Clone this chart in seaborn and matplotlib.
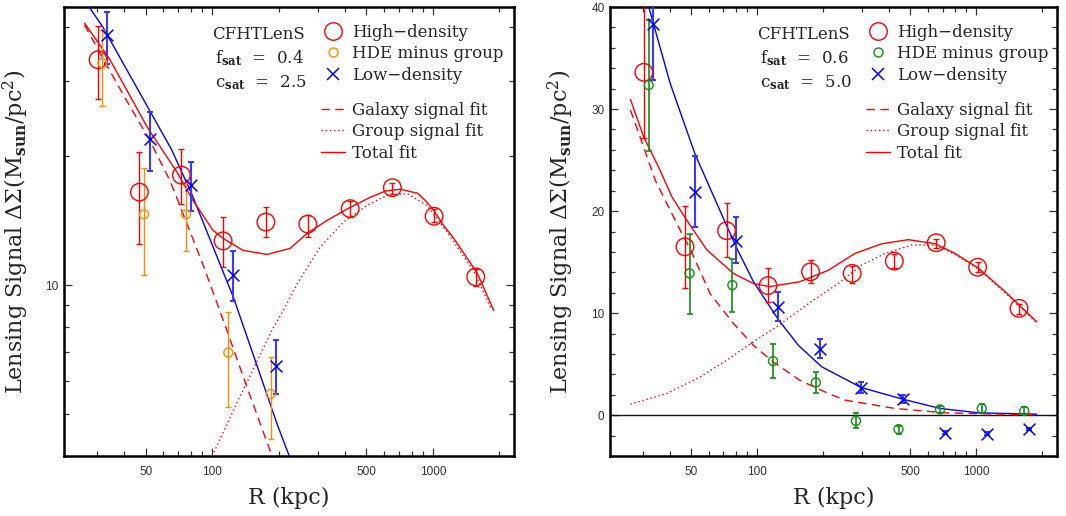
import numpy as np
import matplotlib
matplotlib.use("Agg")
import matplotlib.pyplot as plt
import seaborn as sns
from matplotlib.lines import Line2D
from matplotlib.ticker import FixedLocator, FixedFormatter, NullFormatter

# ---------------- data ----------------
# high-density sample (same in both panels)
R_high = [30.4, 46.8, 72.5, 112, 175, 271, 422, 655, 1012, 1563]
high_y = [33.6, 16.5, 18.08, 12.7, 14.05, 13.9, 15.1, 16.9, 14.5, 10.47]
high_lo = [27.2, 12.5, 15.46, 11.05, 12.95, 13.0, 14.4, 16.35, 14.05, 9.95]
high_hi = [40.3, 20.52, 20.75, 14.45, 15.2, 14.6, 15.75, 17.3, 15.05, 10.93]

# low-density sample (same in both panels)
R_low = [33.5, 52.0, 80.3, 124.5, 194, 297, 461, 719, 1114, 1740]
low_y = [38.3, 21.9, 17.1, 10.58, 6.49, 2.71, 1.57, -1.70, -1.80, -1.37]
low_lo = [32.8, 18.45, 14.9, 9.2, 5.58, 2.13, 1.15, -1.82, -1.92, -1.49]
low_hi = [43.4, 25.4, 19.4, 12.03, 7.46, 3.27, 1.96, -1.58, -1.68, -1.25]

# HDE minus group, left panel (f_sat=0.4)
R_hde1 = [31.8, 49.1, 76.0, 118.3, 184]
hde1_y = [33.0, 14.65, 14.65, 6.97, 5.58]
hde1_lo = [26.2, 10.6, 12.0, 5.21, 4.39]
hde1_hi = [39.5, 18.77, 17.3, 8.69, 6.79]

# HDE minus group, right panel (f_sat=0.6)
R_hde2 = [32.0, 49.1, 77.0, 118, 185, 282, 441, 682, 1057, 1652]
hde2_y = [32.35, 13.9, 12.75, 5.3, 3.2, -0.56, -1.37, 0.56, 0.66, 0.42]
hde2_lo = [25.9, 9.87, 10.1, 3.6, 2.13, -1.3, -1.8, 0.17, 0.26, 0.07]
hde2_hi = [38.7, 17.8, 15.3, 6.96, 4.25, 0.17, -1.05, 0.88, 1.05, 0.81]

# low-density fit (both panels)
lowfit_R = [27.7, 32.0, 40.1, 52.0, 65.4, 80.5, 96.0, 125, 154, 197, 298, 461, 683, 1021, 1885]
lowfit_y = [44.6, 40.0, 32.5, 25.6, 20.75, 16.4, 13.1, 9.35, 6.85, 4.74, 2.71, 1.57, 0.66, 0.23, 0.10]

# left panel fits
tot1_R = [26.4, 34.3, 51.0, 69.1, 81.7, 100.7, 111.8, 137.9, 177, 225.5, 269.4, 332.3, 414,
          520, 609, 713, 852, 927, 1008, 1118, 1242, 1590, 1886]
tot1_y = [40.9, 33.7, 23.3, 18.4, 15.8, 13.45, 12.88, 12.07, 11.81, 12.2, 13.23, 14.19, 15.13,
          16.05, 16.6, 16.76, 16.4, 15.75, 14.97, 13.8, 12.88, 10.67, 8.74]
gal1_R = [26.4, 31.9, 40.9, 52.1, 64.2, 69.8, 90.7, 116.6, 143.8, 186.6]
gal1_y = [40.5, 33.9, 27.0, 21.8, 17.6, 15.8, 11.2, 7.85, 5.78, 4.0]
grp1_R = [100, 130, 145, 185, 210, 233, 250, 309, 394, 503, 620, 765, 942, 1163, 1538, 1832]
grp1_y = [4.0, 5.35, 6.0, 7.8, 8.75, 9.7, 10.35, 12.3, 14.06, 15.37, 16.23, 16.37, 15.35, 13.3, 10.75, 8.85]

# right panel fits
tot2_R = [26.4, 30.3, 35.5, 40.8, 47.7, 58.9, 77.8, 95.9, 114, 156, 211, 279, 370, 489, 648, 799, 1021, 1352, 1885]
tot2_y = [30.95, 27.3, 24.3, 21.4, 19.1, 16.2, 13.9, 12.9, 12.6, 13.07, 14.2, 15.85, 16.8, 17.2, 16.8, 15.85, 14.4, 12.1, 9.15]
gal2_R = [26.4, 30.3, 34.3, 38.7, 45.3, 49.4, 61, 77.8, 95.9, 118.2, 156, 211, 252, 425, 719, 1445, 1885]
gal2_y = [29.9, 26.3, 23.0, 20.75, 17.8, 16.3, 11.9, 9.0, 6.86, 5.23, 3.43, 2.13, 1.47, 0.66, 0.23, 0.08, 0.05]
grp2_R = [26.4, 38.7, 54.9, 72.6, 95.9, 122.5, 156, 177, 234, 299, 383, 506, 648, 799, 1021, 1352, 1885]
grp2_y = [1.08, 2.13, 3.75, 5.39, 7.19, 8.66, 10.3, 11.15, 12.9, 14.7, 15.85, 16.67, 16.67, 15.75, 14.3, 12.0, 9.05]

# texts and ticks
panel_fsat = ["0.4", "0.6"]
panel_csat = ["2.5", "5.0"]
legend_pts = ["High\u2212density", "HDE minus group", "Low\u2212density"]
legend_lines = ["Galaxy signal fit", "Group signal fit", "Total fit"]
x_major = [50, 100, 500, 1000]
x_major_labels = ["50", "100", "500", "1000"]
x_minor = [30, 40, 60, 70, 80, 90, 200, 300, 400, 600, 700, 800, 900, 2000]
yl_major = [10]
yl_major_labels = ["10"]
yl_minor = [4, 5, 6, 7, 8, 9, 20, 30, 40]
yr_major = [0, 10, 20, 30, 40]
yr_minor = list(range(-4, 41, 2))

# ---------------- style ----------------
sns.set_theme(style="ticks")
plt.rcParams["font.family"] = ["DejaVu Serif"]
plt.rcParams["mathtext.fontset"] = "dejavuserif"

RED = "#ff0000"
ORANGE = "#ff8c00"
GREEN = "#138f13"
BLUE = "#0000ff"
FS_LEG = 12

W, H = 1066, 516
fig = plt.figure(figsize=(W / 100, H / 100), dpi=100)
ax1 = fig.add_axes([64 / W, 1 - 456 / H, 450 / W, 449 / H])
ax2 = fig.add_axes([610 / W, 1 - 456 / H, 447 / W, 449 / H])


def ebar(ax, x, y, lo, hi, color, lw, cap, mask_pos=False):
    x = np.asarray(x, float); y = np.asarray(y, float)
    lo = np.asarray(lo, float); hi = np.asarray(hi, float)
    if mask_pos:
        m = y > 0
        x, y, lo, hi = x[m], y[m], lo[m], hi[m]
    ax.errorbar(x, y, yerr=[y - lo, hi - y], fmt="none", ecolor=color,
                elinewidth=lw, capsize=cap, capthick=lw, zorder=4)


def pts(ax, x, y, marker, size, color, lw, mask_pos=False):
    x = np.asarray(x, float); y = np.asarray(y, float)
    if mask_pos:
        m = y > 0
        x, y = x[m], y[m]
    if marker == "x":
        sns.scatterplot(x=x, y=y, ax=ax, marker="x", s=size, color=color,
                        linewidth=lw, zorder=6)
    else:
        sns.scatterplot(x=x, y=y, ax=ax, marker="o", s=size, facecolors="none",
                        edgecolor=color, linewidth=lw, zorder=6)


def line(ax, x, y, color, ls, lw):
    sns.lineplot(x=x, y=y, ax=ax, color=color, ls=ls, lw=lw, sort=False,
                 estimator=None, zorder=3)


def style_axes(ax):
    for s in ax.spines.values():
        s.set_linewidth(1.8)
        s.set_color("black")
    ax.tick_params(which="both", direction="in", top=True, right=True,
                   color="#333333", width=0.9)
    ax.tick_params(which="major", length=6)
    ax.tick_params(which="minor", length=3.5)
    ax.tick_params(axis="x", which="major", pad=7, labelsize=8.5,
                   labelcolor="#333333", labelfontfamily="Liberation Sans")
    ax.tick_params(axis="y", which="major", pad=4, labelsize=8.5,
                   labelcolor="#333333", labelfontfamily="Liberation Sans")
    ax.set_xscale("log")
    ax.set_xlim(21.3, 2330)
    ax.xaxis.set_major_locator(FixedLocator(x_major))
    ax.xaxis.set_major_formatter(FixedFormatter(x_major_labels))
    ax.xaxis.set_minor_locator(FixedLocator(x_minor))
    ax.xaxis.set_minor_formatter(NullFormatter())
    ax.set_xlabel("R (kpc)", fontsize=16)
    ax.xaxis.set_label_coords(0.5, -0.068)
    ax.set_ylabel(r"Lensing Signal $\Delta\Sigma(\mathrm{M}_{\mathbf{sun}}/\mathrm{pc}^2)$",
                  fontsize=16)


def legends(ax, hde_color):
    h1 = [Line2D([], [], ls="none", marker="o", ms=12.6, mfc="none", mec=RED, mew=1.0),
          Line2D([], [], ls="none", marker="o", ms=6.5, mfc="none", mec=hde_color, mew=1.0),
          Line2D([], [], ls="none", marker="x", ms=8.5, mec=BLUE, mew=1.1)]
    kw = dict(loc="upper left", frameon=False, fontsize=FS_LEG, handlelength=1.44,
              handletextpad=0.42, labelspacing=0.27, borderpad=0, borderaxespad=0,
              numpoints=1)
    leg1 = ax.legend(h1, legend_pts, bbox_to_anchor=(0.572, 0.9626), **kw)
    ax.add_artist(leg1)
    h2 = [Line2D([], [], color=RED, ls=(0, (6, 4)), lw=1.0),
          Line2D([], [], color=RED, ls=(0, (1, 2)), lw=1.0),
          Line2D([], [], color=RED, ls="-", lw=1.0)]
    ax.legend(h2, legend_lines, bbox_to_anchor=(0.572, 0.7888), **kw)


def textblock(ax, fsat, csat):
    ax.text(0.329, 0.928, "CFHTLenS", transform=ax.transAxes, fontsize=FS_LEG,
            ha="left", va="baseline")
    ax.text(0.336, 0.8746, r"$\mathrm{f}_{\mathbf{sat}}$  =  " + fsat, transform=ax.transAxes,
            fontsize=FS_LEG, ha="left", va="baseline")
    ax.text(0.336, 0.821, r"$\mathrm{c}_{\mathbf{sat}}$  =  " + csat, transform=ax.transAxes,
            fontsize=FS_LEG, ha="left", va="baseline")


# ---------------- left panel (log y) ----------------
ax = ax1
ax.set_yscale("log")
line(ax, lowfit_R, lowfit_y, BLUE, "-", 1.0)
line(ax, gal1_R, gal1_y, RED, (0, (6, 4)), 1.0)
line(ax, grp1_R, grp1_y, RED, (0, (1, 2)), 1.0)
line(ax, tot1_R, tot1_y, RED, "-", 1.0)
ebar(ax, R_high, high_y, high_lo, high_hi, RED, 1.0, 2.0)
ebar(ax, R_hde1, hde1_y, hde1_lo, hde1_hi, ORANGE, 1.0, 2.0)
ebar(ax, R_low, low_y, low_lo, low_hi, "#3a3aff", 1.5, 2.0, mask_pos=True)
pts(ax, R_high, high_y, "o", 160, RED, 1.0)
pts(ax, R_hde1, hde1_y, "o", 42, ORANGE, 1.0)
pts(ax, R_low, low_y, "x", 72, BLUE, 1.1, mask_pos=True)
style_axes(ax)
ax.set_ylim(4, 44.6)
ax.yaxis.set_major_locator(FixedLocator(yl_major))
ax.yaxis.set_major_formatter(FixedFormatter(yl_major_labels))
ax.yaxis.set_minor_locator(FixedLocator(yl_minor))
ax.yaxis.set_minor_formatter(NullFormatter())
ax.yaxis.set_label_coords(-0.074, 0.5)
legends(ax, ORANGE)
textblock(ax, panel_fsat[0], panel_csat[0])

# ---------------- right panel (linear y) ----------------
ax = ax2
ax.axhline(0, color="#111122", lw=1.0, zorder=2)
line(ax, lowfit_R, lowfit_y, BLUE, "-", 1.0)
line(ax, gal2_R, gal2_y, RED, (0, (6, 4)), 1.0)
line(ax, grp2_R, grp2_y, RED, (0, (1, 2)), 1.0)
line(ax, tot2_R, tot2_y, RED, "-", 1.0)
ebar(ax, R_high, high_y, high_lo, high_hi, RED, 1.0, 2.0)
ebar(ax, R_hde2, hde2_y, hde2_lo, hde2_hi, GREEN, 1.2, 2.0)
ebar(ax, R_low, low_y, low_lo, low_hi, "#3a3aff", 1.5, 2.0)
pts(ax, R_high, high_y, "o", 160, RED, 1.0)
pts(ax, R_hde2, hde2_y, "o", 42, GREEN, 1.0)
pts(ax, R_low, low_y, "x", 72, BLUE, 1.1)
style_axes(ax)
ax.set_ylim(-4, 40)
ax.yaxis.set_major_locator(FixedLocator(yr_major))
ax.yaxis.set_major_formatter(FixedFormatter([str(v) for v in yr_major]))
ax.yaxis.set_minor_locator(FixedLocator(yr_minor))
ax.yaxis.set_minor_formatter(NullFormatter())
ax.yaxis.set_label_coords(-0.076, 0.5)
legends(ax, GREEN)
textblock(ax, panel_fsat[1], panel_csat[1])

fig.savefig("out.png", dpi=100)
